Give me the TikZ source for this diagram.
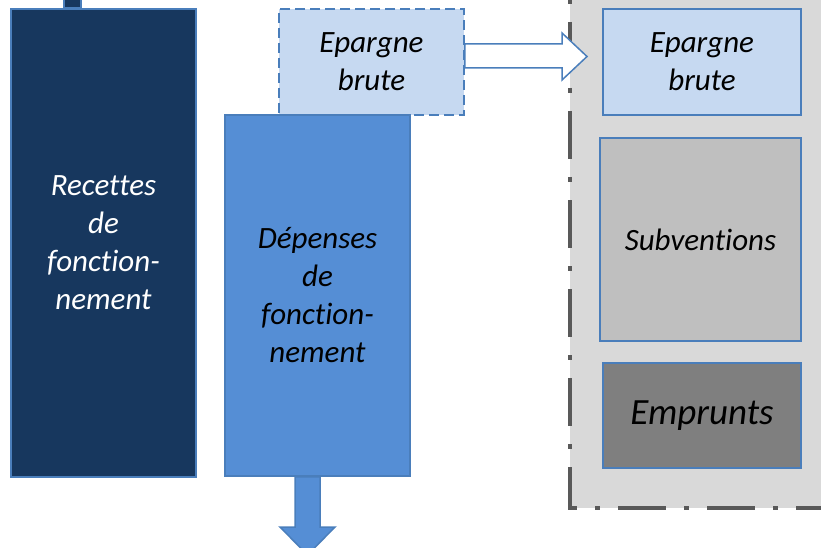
\documentclass[tikz,border=0pt]{standalone}
\usepackage{fontspec}
\setmainfont{Carlito}[Ligatures=NoCommon]
\definecolor{marine}{HTML}{17375E}
\definecolor{bleu}{HTML}{558ED5}
\definecolor{bleuclair}{HTML}{C6D9F1}
\definecolor{bord}{HTML}{4A7EBB}
\definecolor{fond}{HTML}{D9D9D9}
\definecolor{cadre}{HTML}{595959}
\definecolor{grisclair}{HTML}{BFBFBF}
\definecolor{grisfonce}{HTML}{7F7F7F}

\begin{document}
\begin{tikzpicture}[x=1pt, y=-1pt]
  \tikzset{bloc/.style={draw=bord, line width=1.5pt, align=center, inner sep=2pt,
                        font=\fontsize{31}{38}\selectfont\itshape},
           fleche/.style={draw=bord, line width=1.5pt, line join=miter}}
  \useasboundingbox (0,0) rectangle (821,548);
  \clip (0,0) rectangle (821,548);
  \fill[fond] (570,-10) rectangle (830,508);
  \draw[cadre, line width=4pt, dash pattern=on 48pt off 18pt on 5pt off 18pt, dash phase=57pt]
       (570,-10) -- (570,508) -- (830,508);
  \node[bloc, fill=marine, text=white, minimum width=185pt, minimum height=468pt]
       (rec) at (103.5,243) {Recettes\\de\\fonction-\\nement};
  \draw[fleche, fill=marine] (64,-5) rectangle (rec.north -| 81,0);
  \node[bloc, fill=bleuclair, dashed, dash pattern=on 10pt off 5pt, minimum width=185pt, minimum height=106pt]
       (epd) at (371.5,62) {Epargne\\brute};
  \node[bloc, fill=bleu, minimum width=185pt, minimum height=361pt]
       (dep) at (317.5,295.5) {Dépenses\\de\\fonction-\\nement};
  \node[bloc, fill=bleuclair, minimum width=198pt, minimum height=106pt]
       (epr) at (702,62) {Epargne\\brute};
  \node[bloc, fill=grisclair, minimum width=201pt, minimum height=203pt]
       (sub) at (700.5,239.5) {Subventions};
  \node[bloc, fill=grisfonce, minimum width=198pt, minimum height=105pt,
        font=\fontsize{37}{44}\selectfont\itshape]
       (emp) at (702,415.5) {Emprunts};
  \draw[fleche, fill=white] (epd.east |- 0,44) -- (562,44) -- (562,33) -- (587,56.5)
       -- (562,80) -- (562,68) -- (epd.east |- 0,68) -- cycle;
  \draw[fleche, fill=bleu] (dep.south -| 295,0) -- (295,527) -- (280,527) -- (307.5,555)
       -- (335,527) -- (320,527) -- (dep.south -| 320,0) -- cycle;
\end{tikzpicture}
\end{document}
